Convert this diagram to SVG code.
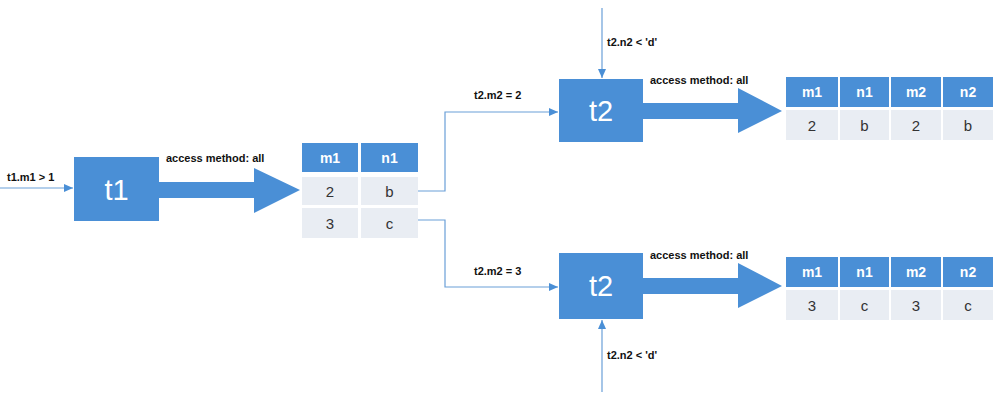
<svg xmlns="http://www.w3.org/2000/svg" width="1000" height="401" viewBox="0 0 1000 401">
<defs>
<style>
.box{fill:#4a8fd6;}
.big{fill:#ffffff;font-family:"Liberation Sans",Arial,sans-serif;font-size:29px;text-anchor:middle;}
.lbl{fill:#111;font-family:"Liberation Sans",Arial,sans-serif;font-size:11px;font-weight:bold;}
.hd{fill:#4a8fd6;}
.hdt{fill:#fff;font-family:"Liberation Sans",Arial,sans-serif;font-size:14px;font-weight:bold;text-anchor:middle;}
.cell{fill:#e9edf3;}
.ct{fill:#333;font-family:"Liberation Sans",Arial,sans-serif;font-size:15px;text-anchor:middle;}
.ln{fill:none;stroke:#6a9fd8;stroke-width:1.2;}
.fat{fill:#4a8fd6;}
</style>
<marker id="ah" markerWidth="10" markerHeight="10" refX="9" refY="5" orient="auto" markerUnits="userSpaceOnUse">
<path d="M0,1 L9,5 L0,9 z" fill="#4a8fd6"/>
</marker>
</defs>
<rect width="1000" height="401" fill="#ffffff"/>

<g id="connectors">
<path class="ln" d="M0,188 H73" marker-end="url(#ah)"/>
<path class="ln" d="M418,191 H445 V112 H558" marker-end="url(#ah)"/>
<path class="ln" d="M418,220 H445 V287 H558" marker-end="url(#ah)"/>
<path class="ln" d="M602,8 V78" marker-end="url(#ah)"/>
<path class="ln" d="M602,392 V320" marker-end="url(#ah)"/>
<path class="fat" d="M159,182 H254 V168 L300,190 L254,213 V198 H159 z"/>
<path class="fat" d="M643,103 H738 V88 L782,111 L738,133 V119 H643 z"/>
<path class="fat" d="M643,278 H738 V263 L782,286 L738,308 V294 H643 z"/>
<text class="lbl" x="7" y="181">t1.m1 &gt; 1</text>
<text class="lbl" x="166" y="162">access method: all</text>
<text class="lbl" x="474" y="99">t2.m2 = 2</text>
<text class="lbl" x="474" y="275">t2.m2 = 3</text>
<text class="lbl" x="607" y="46">t2.n2 &lt; 'd'</text>
<text class="lbl" x="607" y="359">t2.n2 &lt; 'd'</text>
<text class="lbl" x="650" y="84">access method: all</text>
<text class="lbl" x="650" y="259">access method: all</text>
</g>

<g id="t1">
<rect class="box" x="74" y="157" width="85" height="64"/>
<text class="big" x="116.5" y="200">t1</text>
</g>

<g id="t2-top">
<rect class="box" x="559" y="79" width="84" height="63"/>
<text class="big" x="601" y="121">t2</text>
</g>

<g id="t2-bottom">
<rect class="box" x="559" y="253" width="84" height="66"/>
<text class="big" x="601" y="296">t2</text>
</g>

<g id="table1">
<rect class="hd" x="302" y="143" width="56" height="29"/>
<rect class="hd" x="361" y="143" width="57" height="29"/>
<rect class="cell" x="302" y="177" width="56" height="28"/>
<rect class="cell" x="361" y="177" width="57" height="28"/>
<rect class="cell" x="302" y="208" width="56" height="30"/>
<rect class="cell" x="361" y="208" width="57" height="30"/>
<text class="hdt" x="330" y="163">m1</text>
<text class="hdt" x="389.5" y="163">n1</text>
<text class="ct" x="330" y="197">2</text>
<text class="ct" x="389.5" y="197">b</text>
<text class="ct" x="330" y="229">3</text>
<text class="ct" x="389.5" y="229">c</text>
</g>

<g id="table-top">
<rect class="hd" x="786" y="77" width="52" height="30"/>
<rect class="hd" x="840" y="77" width="49" height="30"/>
<rect class="hd" x="891" y="77" width="50" height="30"/>
<rect class="hd" x="943" y="77" width="50" height="30"/>
<rect class="cell" x="786" y="110" width="52" height="30"/>
<rect class="cell" x="840" y="110" width="49" height="30"/>
<rect class="cell" x="891" y="110" width="50" height="30"/>
<rect class="cell" x="943" y="110" width="50" height="30"/>
<text class="hdt" x="812" y="97">m1</text>
<text class="hdt" x="864.5" y="97">n1</text>
<text class="hdt" x="916" y="97">m2</text>
<text class="hdt" x="968" y="97">n2</text>
<text class="ct" x="812" y="131">2</text>
<text class="ct" x="864.5" y="131">b</text>
<text class="ct" x="916" y="131">2</text>
<text class="ct" x="968" y="131">b</text>
</g>

<g id="table-bottom">
<rect class="hd" x="786" y="257" width="52" height="30"/>
<rect class="hd" x="840" y="257" width="49" height="30"/>
<rect class="hd" x="891" y="257" width="50" height="30"/>
<rect class="hd" x="943" y="257" width="50" height="30"/>
<rect class="cell" x="786" y="290" width="52" height="30"/>
<rect class="cell" x="840" y="290" width="49" height="30"/>
<rect class="cell" x="891" y="290" width="50" height="30"/>
<rect class="cell" x="943" y="290" width="50" height="30"/>
<text class="hdt" x="812" y="277">m1</text>
<text class="hdt" x="864.5" y="277">n1</text>
<text class="hdt" x="916" y="277">m2</text>
<text class="hdt" x="968" y="277">n2</text>
<text class="ct" x="812" y="311">3</text>
<text class="ct" x="864.5" y="311">c</text>
<text class="ct" x="916" y="311">3</text>
<text class="ct" x="968" y="311">c</text>
</g>
</svg>
